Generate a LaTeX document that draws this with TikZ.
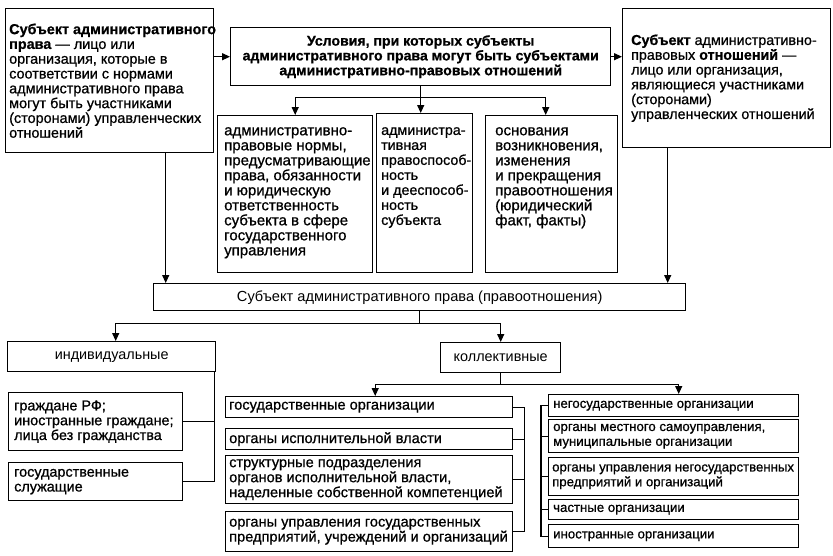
\documentclass[tikz,border=0pt]{standalone}
\usepackage{fontspec}
\setmainfont{Liberation Sans}
\newfontfamily\bodyfam{Liberation Sans}[FakeBold=0.8]
\newcommand\setfs[2]{\fontsize{#1}{#2}\selectfont}
\usetikzlibrary{arrows.meta}
\begin{document}
\begin{tikzpicture}[x=1pt,y=-1pt,
  box/.style={draw, line width=1.4pt, inner sep=0pt, anchor=north west},
  txt/.style={inner sep=0pt, align=left},
  ctxt/.style={inner sep=0pt, align=center},
  conn/.style={line width=1.2pt},
  arr/.style={conn, -{Triangle[length=8pt,width=7pt]}},
  font=\bodyfam\setfs{13.2}{14.8}]
\useasboundingbox (0,0) rectangle (833,555);
% top row
\node[box, minimum width=208, minimum height=144] (L) at (5,8) {};
\node[txt, anchor=west, font=\bodyfam\setfs{14.4}{14.8}] (Lt) at ([xshift=4]L.west) {\textbf{Субъект административного}\\\textbf{права} — лицо или\\организация, которые в\\соответствии с нормами\\административного права\\могут быть участниками\\(сторонами) управленческих\\отношений};
\node[box, minimum width=380, minimum height=58] (C) at (230,27) {};
\node[ctxt, font=\bodyfam\setfs{14.1}{14.8}\bfseries] (Ct) at (C.center) {Условия, при которых субъекты\\административного права могут быть субъектами\\административно-правовых отношений};
\node[box, minimum width=208, minimum height=139] (R) at (622,8) {};
\node[txt, anchor=west, font=\bodyfam\setfs{14.3}{14.8}] (Rt) at ([xshift=9]R.west) {\textbf{Субъект} административно-\\правовых \textbf{отношений} —\\лицо или организация,\\являющиеся участниками\\(сторонами)\\управленческих отношений};
% middle row
\node[box, minimum width=155, minimum height=157] (M1) at (217,115) {};
\node[txt, anchor=north west, font=\bodyfam\setfs{15}{15}] (M1t) at ([shift={(7,12)}]M1.north west) {административно-\\правовые нормы,\\предусматривающие\\права, обязанности\\и юридическую\\ответственность\\субъекта в сфере\\государственного\\управления};
\node[box, minimum width=96, minimum height=159] (M2) at (376,113) {};
\node[txt, anchor=north west, font=\bodyfam\setfs{14.3}{15}] (M2t) at ([shift={(5,14)}]M2.north west) {администра-\\тивная\\правоспособ-\\ность\\и дееспособ-\\ность\\субъекта};
\node[box, minimum width=132, minimum height=157] (M3) at (485,115) {};
\node[txt, anchor=north west, font=\bodyfam\setfs{15}{15}] (M3t) at ([shift={(10,12)}]M3.north west) {основания\\возникновения,\\изменения\\и прекращения\\правоотношения\\(юридический\\факт, факты)};
% bar
\node[box, minimum width=532, minimum height=27] (B) at (153,283) {};
\node[ctxt, font=\rmfamily\setfs{14.6}{14.8}] (Bt) at (B.center) {Субъект административного права (правоотношения)};
\node[box, minimum width=208, minimum height=30] (I) at (7,341) {};
\node[ctxt, font=\rmfamily\setfs{14.4}{14.8}] (It) at (I.center) {индивидуальные};
\node[box, minimum width=120, minimum height=30] (K) at (440,342) {};
\node[ctxt, font=\rmfamily\setfs{14.4}{14.8}] (Kt) at (K.center) {коллективные};
% left column
\node[box, minimum width=174, minimum height=58] (G1) at (8,392) {};
\node[txt, anchor=west, font=\bodyfam\setfs{14.4}{14.8}] (G1t) at ([xshift=6]G1.west) {граждане РФ;\\иностранные граждане;\\лица без гражданства};
\node[box, minimum width=174, minimum height=38] (G2) at (8,462) {};
\node[txt, anchor=west, font=\bodyfam\setfs{14.4}{14.8}] (G2t) at ([xshift=6]G2.west) {государственные\\служащие};
% middle column
\begin{scope}[every node/.append style={font=\bodyfam\setfs{14.6}{15}}]
\node[box, minimum width=287, minimum height=21] (S1) at (225,396) {};
\node[txt, anchor=west] (S1t) at ([xshift=4]S1.west) {государственные организации};
\node[box, minimum width=287, minimum height=21] (S2) at (225,428) {};
\node[txt, anchor=west] (S2t) at ([xshift=4]S2.west) {органы исполнительной власти};
\node[box, minimum width=287, minimum height=48] (S3) at (225,455) {};
\node[txt, anchor=west] (S3t) at ([xshift=4]S3.west) {структурные подразделения\\органов исполнительной власти,\\наделенные собственной компетенцией};
\node[box, minimum width=287, minimum height=40] (S4) at (225,511) {};
\node[txt, anchor=west] (S4t) at ([xshift=4]S4.west) {органы управления государственных\\предприятий, учреждений и организаций};
\end{scope}
% right column
\node[box, minimum width=250, minimum height=22] (N1) at (548,394) {};
\node[txt, anchor=west] (N1t) at ([xshift=5]N1.west) {негосударственные организации};
\node[box, minimum width=250, minimum height=33] (N2) at (548,419) {};
\node[txt, anchor=west] (N2t) at ([xshift=5]N2.west) {органы местного самоуправления,\\муниципальные организации};
\node[box, minimum width=250, minimum height=38] (N3) at (548,457) {};
\node[txt, anchor=west] (N3t) at ([xshift=4]N3.west) {органы управления негосударственных\\предприятий и организаций};
\node[box, minimum width=250, minimum height=20] (N4) at (548,499) {};
\node[txt, anchor=west] (N4t) at ([xshift=5]N4.west) {частные организации};
\node[box, minimum width=250, minimum height=23] (N5) at (548,524) {};
\node[txt, anchor=west] (N5t) at ([xshift=5]N5.west) {иностранные организации};
% connectors top
\draw[arr] (L.east |- C.west) -- (C.west);
\draw[arr] (C.east) -- (C.east -| R.west);
\draw[conn] (C.south) -- ++(0,11) coordinate (cj);
\draw[arr] (cj) -| (M1.north);
\draw[arr] (cj) -| ([xshift=-6]M3.north);
\draw[arr] (cj) -- (cj |- M2.north);
\draw[arr] ([xshift=56]L.south) -- ([xshift=56]L.south |- B.north);
\draw[arr] ([xshift=-59]R.south) -- ([xshift=-59]R.south |- B.north);
% bar to categories
\draw[conn] (B.south) -- ++(0,12) coordinate (bj);
\draw[arr] (bj) -| ([xshift=4]I.north);
\draw[arr] (bj) -| (K.north);
% collective split
\draw[conn] (K.south) -- ++(0,11) coordinate (kj);
\draw[arr] (kj) -| ([xshift=6]S1.north);
\draw[arr] (kj) -| ([xshift=5]N1.north);
% brackets
\coordinate (ib) at ([xshift=-2]I.south east);
\draw[conn] (ib) |- (G2.east);
\draw[conn] (G1.east) -- (G1.east -| ib);
\draw[conn] (S1.east) -- ++(11,0) coordinate (sb) |- (S4.east);
\draw[conn] (S2.east) -- (S2.east -| sb);
\draw[conn] (S3.east) -- (S3.east -| sb);
\draw[conn] (N1.west) -- ++(-7,0) coordinate (nb) |- (N5.west);
\draw[conn] (N2.west) -- (N2.west -| nb);
\draw[conn] (N3.west) -- (N3.west -| nb);
\draw[conn] (N4.west) -- (N4.west -| nb);
\end{tikzpicture}
\end{document}
